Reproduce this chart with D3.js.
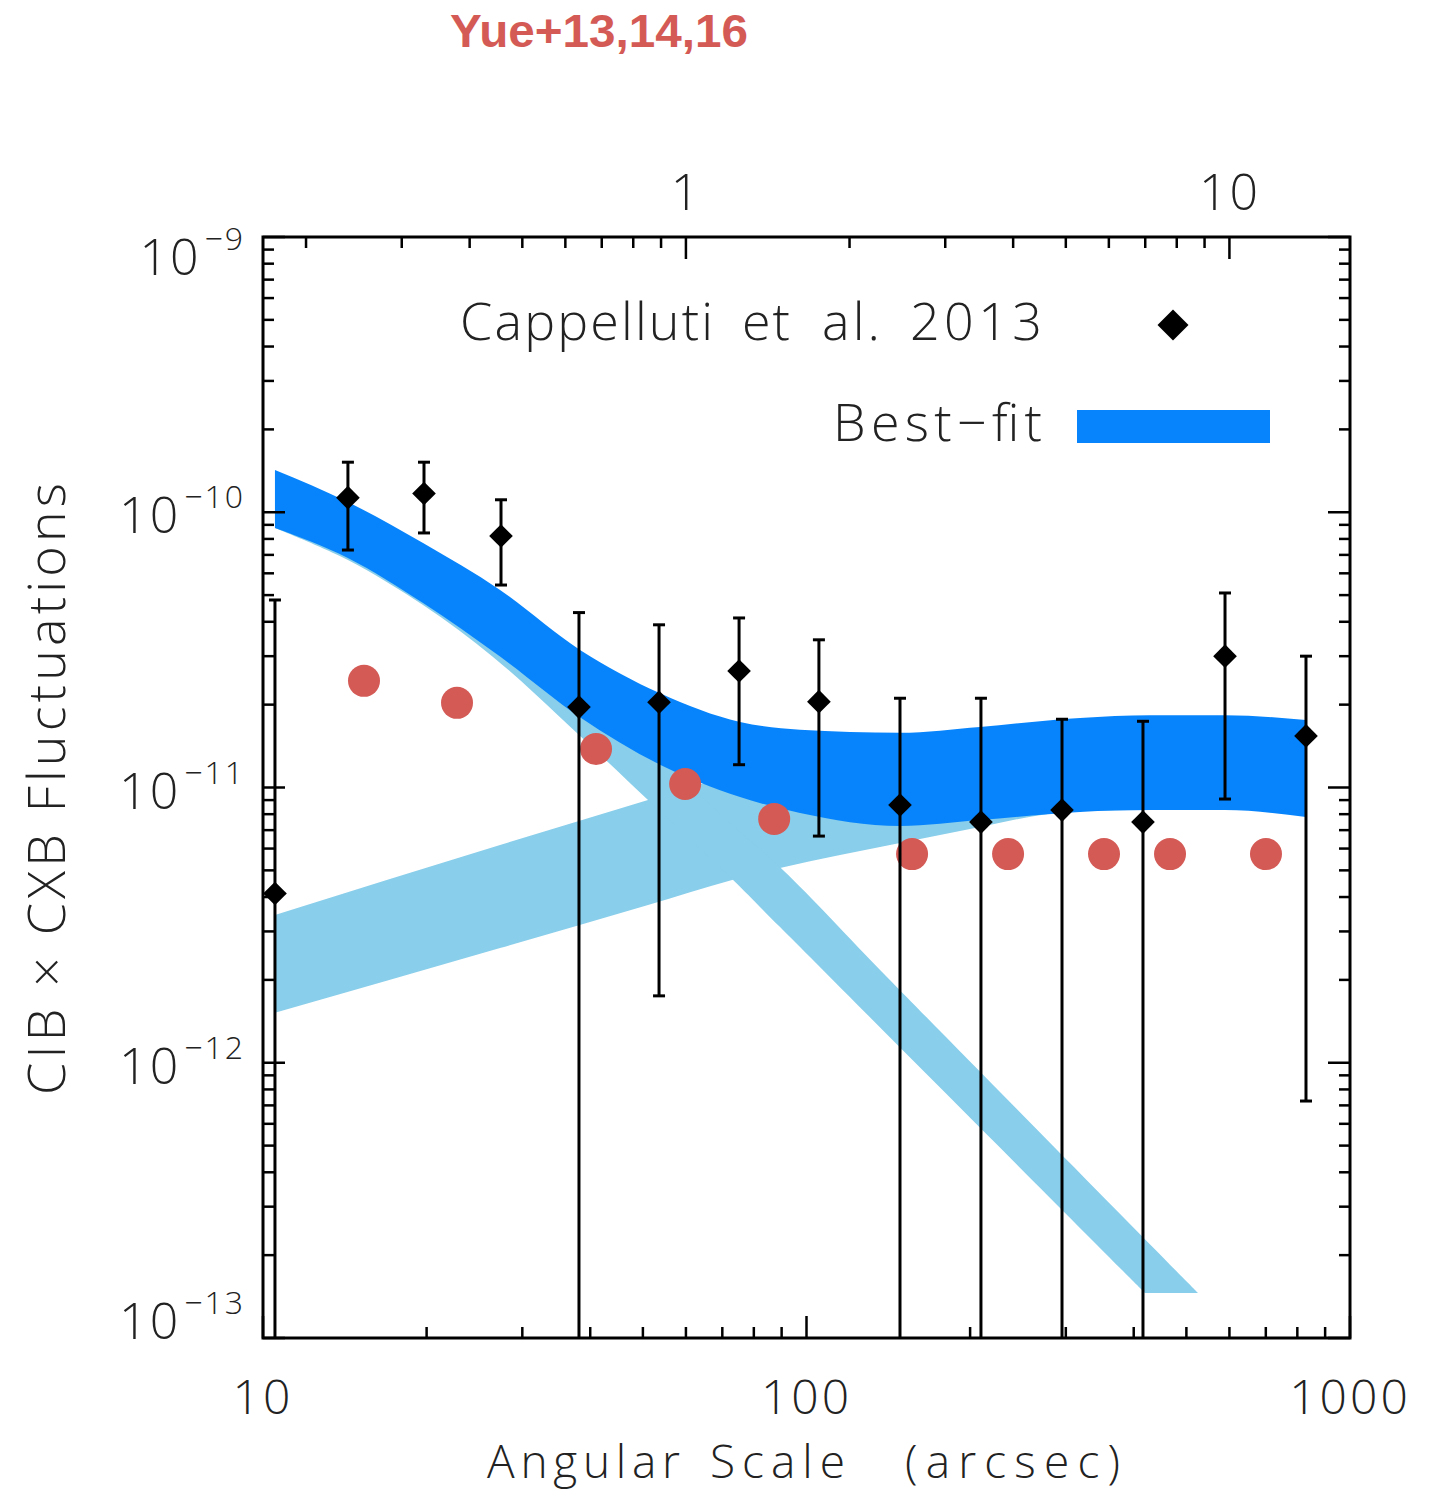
<!DOCTYPE html>
<html>
<head>
<meta charset="utf-8">
<script src="https://cdn.jsdelivr.net/npm/d3@7"></script>
<style>
  body { margin: 0; background: #fff; }
  text { font-family: "Open Sans", "DejaVu Sans", sans-serif; font-weight: 300; fill: #222; }
</style>
</head>
<body>
<svg id="chart" width="1436" height="1496"></svg>
<script>
// Cappelluti et al. 2013 (angular scale in arcsec, CIB x CXB fluctuation)
const capScale = [10.52, 14.33, 19.78, 27.41, 38.14, 53.54, 75.15, 105.4, 148.6, 209.4, 295.2, 416.0, 588.9, 829.9];
const capValue = [4.12e-12, 1.13e-10, 1.17e-10, 8.20e-11, 1.96e-11, 2.04e-11, 2.65e-11, 2.05e-11, 8.64e-12, 7.49e-12, 8.28e-12, 7.49e-12, 3.00e-11, 1.54e-11];
const capHigh = [4.80e-11, 1.52e-10, 1.52e-10, 1.11e-10, 4.32e-11, 3.90e-11, 4.13e-11, 3.44e-11, 2.11e-11, 2.11e-11, 1.77e-11, 1.74e-11, 5.09e-11, 3.00e-11];
// null = lower bound consistent with zero (runs off the bottom of the plot)
const capLow = [null, 7.29e-11, 8.41e-11, 5.44e-11, null, 1.75e-12, 1.21e-11, 6.66e-12, null, null, null, null, 9.08e-12, 7.26e-13];

// Yue+13,14,16
const yueScale = [15.34, 22.75, 41.0, 59.8, 87.2, 156.4, 234.9, 352.7, 466.5, 700.5];
const yueValue = [2.44e-11, 2.03e-11, 1.38e-11, 1.03e-11, 7.69e-12, 5.73e-12, 5.73e-12, 5.73e-12, 5.73e-12, 5.73e-12];

// best-fit band (total)
const fitScale = [10.52, 14.33, 19.70, 27.30, 38.31, 53.77, 75.47, 97.3, 148.6, 208.5, 318.6, 428.6, 588.9, 829.9];
const fitHigh = [1.424e-10, 1.089e-10, 7.73e-11, 5.22e-11, 3.16e-11, 2.20e-11, 1.73e-11, 1.62e-11, 1.58e-11, 1.66e-11, 1.79e-11, 1.83e-11, 1.83e-11, 1.76e-11];
const fitLow = [8.77e-11, 6.82e-11, 4.68e-11, 2.99e-11, 1.80e-11, 1.21e-11, 9.24e-12, 8.08e-12, 7.25e-12, 7.62e-12, 8.15e-12, 8.28e-12, 8.28e-12, 7.81e-12];

// rising component
const riseScale = [10.52, 27.30, 51.10, 72.95, 89.4, 148.6, 208.5, 239.9, 318.6, 588.9, 829.9];
const riseHigh = [3.44e-12, 6.18e-12, 9.01e-12, 1.11e-11, 1.24e-11, 1.43e-11, 1.51e-11, 1.55e-11, 1.62e-11, 1.66e-11, 1.66e-11];
const riseLow = [1.52e-12, 2.61e-12, 3.74e-12, 4.61e-12, 5.10e-12, 6.29e-12, 7.19e-12, 7.62e-12, 8.22e-12, 8.36e-12, 7.95e-12];

// falling component (edges end at different scales)
const fallUpScale = [10.52, 14.33, 19.70, 27.30, 38.31, 51.10, 72.95, 90.5, 142.4, 525.2];
const fallUp = [1.389e-10, 1.062e-10, 7.29e-11, 4.72e-11, 2.63e-11, 1.43e-11, 7.31e-12, 5.02e-12, 2.00e-12, 1.457e-13];
const fallLowScale = [10.52, 14.33, 19.70, 26.50, 35.20, 51.10, 72.95, 89.4, 419.6];
const fallLow = [8.77e-11, 6.71e-11, 4.60e-11, 2.98e-11, 1.80e-11, 9.01e-12, 4.65e-12, 3.11e-12, 1.457e-13];

const yTickValues = [1e-13, 1e-12, 1e-11, 1e-10, 1e-9];
const yTickExp = ["\u221213", "\u221212", "\u221211", "\u221210", "\u22129"];
const xTickValues = [10, 100, 1000];
const topTickValues = [1, 10];

const colors = {
  fit: "#0784fc",
  component: "#89ceea",
  yue: "#d45a56",
  ink: "#000"
};

const svg = d3.select("#chart");
const plot = { left: 263, right: 1350, top: 237, bottom: 1338 };

const x = d3.scaleLog().domain([10, 1000]).range([plot.left, plot.right]);
const xTop = d3.scaleLog().domain([10 / 60, 1000 / 60]).range([plot.left, plot.right]);
const y = d3.scaleLog().domain([1e-13, 1e-9]).range([plot.bottom, plot.top]);

svg.append("defs").append("clipPath").attr("id", "plot-clip")
  .append("rect")
  .attr("x", plot.left).attr("y", plot.top)
  .attr("width", plot.right - plot.left).attr("height", plot.bottom - plot.top);

const g = svg.append("g").attr("clip-path", "url(#plot-clip)");

// bands
const band = d3.area()
  .x((d) => x(d.s))
  .y0((d) => y(d.lo))
  .y1((d) => y(d.hi))
  .curve(d3.curveMonotoneX);

g.append("path")
  .attr("d", band(riseScale.map((s, i) => ({ s, lo: riseLow[i], hi: riseHigh[i] }))))
  .attr("fill", colors.component);

const edge = d3.line()
  .x((d) => x(d[0]))
  .y((d) => y(d[1]))
  .curve(d3.curveCatmullRom.alpha(0.5));
const upPath = edge(d3.zip(fallUpScale, fallUp));
const lowPath = edge(d3.zip(fallLowScale, fallLow).reverse());
g.append("path")
  .attr("d", upPath + "L" + lowPath.slice(1) + "Z")
  .attr("fill", colors.component);

g.append("path")
  .attr("d", band(fitScale.map((s, i) => ({ s, lo: fitLow[i], hi: fitHigh[i] }))))
  .attr("fill", colors.fit);

// Yue points
g.selectAll(".yue")
  .data(d3.zip(yueScale, yueValue))
  .enter()
  .append("circle")
  .attr("class", "yue")
  .attr("cx", (d) => x(d[0]))
  .attr("cy", (d) => y(d[1]))
  .attr("r", 16)
  .attr("fill", colors.yue);

// Cappelluti points with error bars
const capData = capScale.map((s, i) => ({ s, v: capValue[i], hi: capHigh[i], lo: capLow[i] }));
const capHalf = 6;
const bars = g.append("g").attr("stroke", colors.ink).attr("stroke-width", 3);
capData.forEach((d) => {
  const cx = x(d.s);
  const yLo = d.lo === null ? plot.bottom + 5 : y(d.lo);
  bars.append("line").attr("x1", cx).attr("x2", cx).attr("y1", y(d.hi)).attr("y2", yLo);
  bars.append("line").attr("x1", cx - capHalf).attr("x2", cx + capHalf).attr("y1", y(d.hi)).attr("y2", y(d.hi));
  if (d.lo !== null) {
    bars.append("line").attr("x1", cx - capHalf).attr("x2", cx + capHalf).attr("y1", yLo).attr("y2", yLo);
  }
});

const diamond = d3.symbol(d3.symbolSquare, 280);
g.selectAll(".cap")
  .data(capData)
  .enter()
  .append("path")
  .attr("class", "cap")
  .attr("d", diamond)
  .attr("transform", (d) => `translate(${x(d.s)},${y(d.v)}) rotate(45)`)
  .attr("fill", colors.ink);

// frame and ticks
const axes = svg.append("g").attr("stroke", colors.ink).attr("fill", "none");
axes.append("rect")
  .attr("x", plot.left).attr("y", plot.top)
  .attr("width", plot.right - plot.left).attr("height", plot.bottom - plot.top)
  .attr("stroke-width", 3);

function logTicks(lo, hi) {
  const out = [];
  for (let e = Math.floor(Math.log10(lo)); e <= Math.ceil(Math.log10(hi)); e++) {
    for (let m = 1; m < 10; m++) {
      const v = m * Math.pow(10, e);
      if (v >= lo * 0.999 && v <= hi * 1.001) out.push({ v, major: m === 1 });
    }
  }
  return out;
}

const majorLen = 22, minorLen = 11;
logTicks(10, 1000).forEach((t) => {
  const px = x(t.v), len = t.major ? majorLen : minorLen;
  axes.append("line").attr("x1", px).attr("x2", px)
    .attr("y1", plot.bottom).attr("y2", plot.bottom - len).attr("stroke-width", 2.5);
});
logTicks(10 / 60, 1000 / 60).forEach((t) => {
  const px = xTop(t.v), len = t.major ? majorLen : minorLen;
  axes.append("line").attr("x1", px).attr("x2", px)
    .attr("y1", plot.top).attr("y2", plot.top + len).attr("stroke-width", 2.5);
});
logTicks(1e-13, 1e-9).forEach((t) => {
  const py = y(t.v), len = t.major ? majorLen : minorLen;
  axes.append("line").attr("x1", plot.left).attr("x2", plot.left + len)
    .attr("y1", py).attr("y2", py).attr("stroke-width", 2.5);
  axes.append("line").attr("x1", plot.right).attr("x2", plot.right - len)
    .attr("y1", py).attr("y2", py).attr("stroke-width", 2.5);
});

// tick labels
const labelSize = 50;
svg.selectAll(".xlab")
  .data(xTickValues)
  .enter()
  .append("text")
  .attr("class", "xlab")
  .attr("x", (d) => x(d))
  .attr("y", plot.bottom + 76)
  .attr("text-anchor", "middle")
  .attr("font-size", 48)
  .attr("letter-spacing", 3)
  .text((d) => d);

svg.selectAll(".toplab")
  .data(topTickValues)
  .enter()
  .append("text")
  .attr("class", "toplab")
  .attr("x", (d) => xTop(d))
  .attr("y", plot.top - 27)
  .attr("text-anchor", "middle")
  .attr("font-size", labelSize)
  .attr("letter-spacing", 2)
  .text((d) => d);

yTickValues.forEach((v, i) => {
  const center = Math.min(Math.max(y(v) + 3, plot.top + 20), plot.bottom - 17);
  const t = svg.append("text")
    .attr("x", 245)
    .attr("y", center + 18)
    .attr("text-anchor", "end")
    .attr("font-size", labelSize)
    .attr("letter-spacing", 2);
  t.append("tspan").text("10");
  t.append("tspan").attr("dx", 4).attr("dy", -25).attr("font-size", 32).text(yTickExp[i]);
});

// multi-word labels: each word placed with its own width, like the wide spacing of the original
function spacedText(words, starts, widths, baseline, size) {
  const t = svg.append("text").attr("y", baseline).attr("font-size", size);
  words.forEach((w, i) => {
    t.append("tspan")
      .attr("x", starts[i])
      .attr("textLength", widths[i])
      .attr("lengthAdjust", "spacing")
      .text(w);
  });
  return t;
}

// axis titles
spacedText(["Angular", "Scale", "(arcsec)"], [487, 710, 905], [193, 135, 215], 1478, 46);

svg.append("text")
  .attr("transform", "translate(65,789) rotate(-90)")
  .attr("text-anchor", "middle")
  .attr("font-size", 52)
  .attr("textLength", 612)
  .attr("lengthAdjust", "spacing")
  .text("CIB \u00d7 CXB Fluctuations");

// legend
spacedText(["Cappelluti", "et", "al.", "2013"], [460, 742, 822, 910], [253, 48, 58, 132], 340, 52);
svg.append("path")
  .attr("d", d3.symbol(d3.symbolSquare, 480))
  .attr("transform", "translate(1173,325) rotate(45)")
  .attr("fill", colors.ink);

svg.append("text")
  .attr("x", 833)
  .attr("y", 441)
  .attr("font-size", 52)
  .attr("textLength", 209)
  .attr("lengthAdjust", "spacing")
  .text("Best\u2212fit");
svg.append("rect")
  .attr("x", 1077).attr("y", 410)
  .attr("width", 193).attr("height", 33)
  .attr("fill", colors.fit);

// title
svg.append("text")
  .attr("x", 450)
  .attr("y", 47)
  .attr("font-size", 47)
  .attr("textLength", 298)
  .attr("lengthAdjust", "spacingAndGlyphs")
  .style("font-family", "'Liberation Sans', Arial, sans-serif")
  .style("font-weight", 700)
  .style("fill", colors.yue)
  .text("Yue+13,14,16");
</script>
</body>
</html>
